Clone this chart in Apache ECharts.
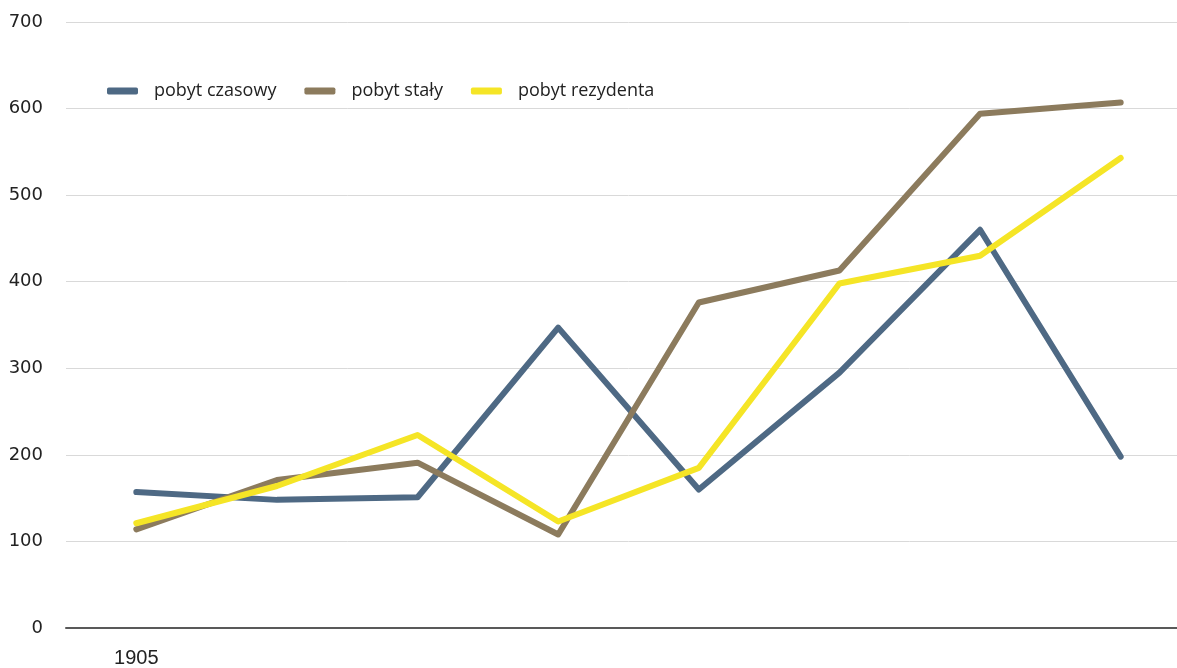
<!DOCTYPE html>
<html>
<head>
<meta charset="utf-8">
<script src="https://cdn.jsdelivr.net/npm/echarts@6/dist/echarts.min.js"></script>
<style>html,body{margin:0;padding:0;background:#fff;overflow:hidden;width:1177px;height:668px}#c{width:1191px;height:668px}</style>
</head>
<body>
<div id="c"></div>
<script>
const categories = ['1905', '', '', '', '', '', '', ''];
const pobytCzasowy = [157, 148, 151, 347, 160, 295, 460, 198];
const pobytStaly = [114, 171, 191, 108, 376, 413, 594, 607];
const pobytRezydenta = [121, 164, 223, 123, 185, 398, 430, 543];
const yTicks = [0, 100, 200, 300, 400, 500, 600, 700];

const chart = echarts.init(document.getElementById('c'));
const lineSeries = (name, data, color) => ({
  name, type: 'line', data, symbol: 'none', smooth: false,
  lineStyle: { color, width: 6, cap: 'round', join: 'round' },
  itemStyle: { color }
});
chart.setOption({
  animation: false,
  grid: { left: 66, right: 0, top: 22, bottom: 38, containLabel: false },
  legend: {
    left: 102, top: 77, itemWidth: 31, itemHeight: 7, itemGap: 28, icon: 'roundRect',
    textStyle: { fontFamily: 'Open Sans', fontSize: 18, color: '#222', padding: [0, 0, 0, 11] },
    data: ['pobyt czasowy', 'pobyt stały', 'pobyt rezydenta']
  },
  xAxis: {
    type: 'category', data: categories, boundaryGap: true,
    axisLine: { lineStyle: { color: '#595959', width: 2 } },
    axisTick: { show: false },
    axisLabel: { interval: 0, margin: 20, fontFamily: 'Liberation Sans', fontSize: 20, color: '#222' }
  },
  yAxis: {
    type: 'value', min: 0, max: 700, interval: 100,
    axisLine: { show: false }, axisTick: { show: false },
    splitLine: { lineStyle: { color: '#d9d9d9', width: 1 } },
    axisLabel: { margin: 23, fontFamily: 'DejaVu Sans', fontSize: 18, color: '#222',
      formatter: v => yTicks.includes(v) ? String(v) : '' }
  },
  series: [
    lineSeries('pobyt czasowy', pobytCzasowy, '#4E6984'),
    lineSeries('pobyt stały', pobytStaly, '#8C7B5D'),
    lineSeries('pobyt rezydenta', pobytRezydenta, '#F5E526')
  ]
});
</script>
</body>
</html>
